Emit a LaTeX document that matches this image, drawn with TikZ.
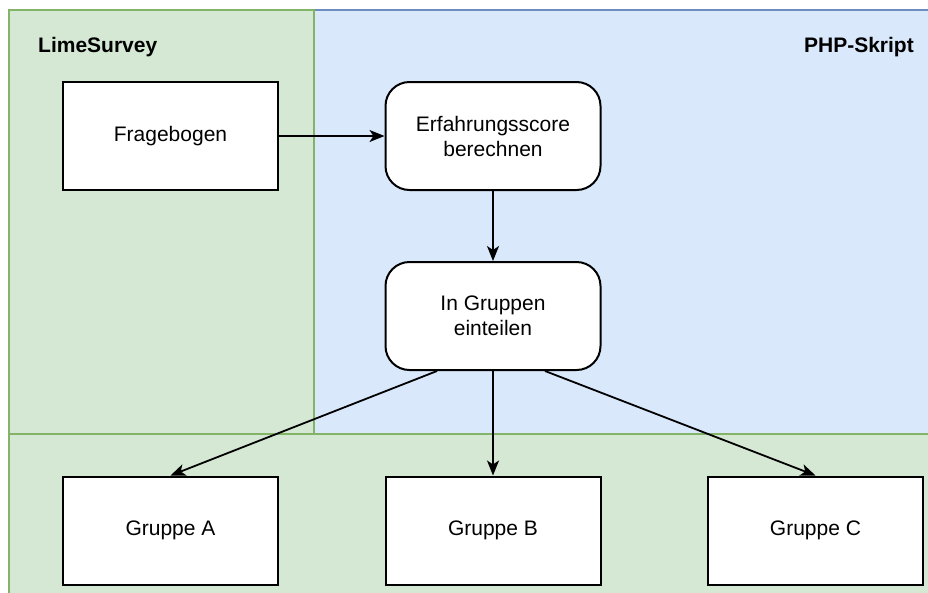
\documentclass[tikz,border=0pt]{standalone}
\usepackage{fontspec}
\setmainfont{Liberation Sans}
\usetikzlibrary{arrows.meta}
\definecolor{gfill}{HTML}{D5E8D4}
\definecolor{gline}{HTML}{82B366}
\definecolor{bfill}{HTML}{DAE8FC}
\definecolor{bline}{HTML}{6C8EBF}
\tikzset{
  sqbox/.style={draw=black, line width=2pt, fill=white, minimum width=215pt, minimum height=108pt, inner sep=0pt, font=\fontsize{21}{25}\selectfont, align=center},
  rbox/.style={sqbox, rounded corners=24pt},
  conn/.style={line width=1.8pt, -{Stealth[length=15pt,width=12pt,inset=4pt]}},
  lane/.style={font=\bfseries\fontsize{21}{25}\selectfont, inner sep=0pt}
}
\begin{document}
\begin{tikzpicture}[x=1pt,y=-1pt]
\useasboundingbox (0,0) rectangle (928,592);
% lanes
\draw[fill=bfill, draw=bline, line width=1.5pt] (314,10) rectangle (940,434);
\draw[fill=gfill, draw=gline, line width=1.5pt] (9,10) rectangle (314,434);
\draw[fill=gfill, draw=gline, line width=1.5pt] (9,434) rectangle (940,600);
\node[lane, anchor=west] (lime) at (38,47) {LimeSurvey};
\node[lane, anchor=east] (php) at (914,47) {PHP-Skript};
% nodes
\node[sqbox] (frage) at (170.5,136) {Fragebogen};
\node[rbox] (score) at (493,136) {Erfahrungsscore\\berechnen};
\node[rbox] (grp) at (493,316) {In Gruppen\\einteilen};
\node[sqbox] (ga) at (170.5,530.5) {Gruppe A};
\node[sqbox] (gb) at (493,530.5) {Gruppe B};
\node[sqbox] (gc) at (815.5,530.5) {Gruppe C};
% connectors
\draw[conn] (frage.east) -- (score.west);
\draw[conn] (score.south) -- (grp.north);
\draw[conn] ([xshift=-56pt]grp.south) -- (ga.north);
\draw[conn] (grp.south) -- (gb.north);
\draw[conn] ([xshift=52pt]grp.south) -- (gc.north);
\end{tikzpicture}
\end{document}
